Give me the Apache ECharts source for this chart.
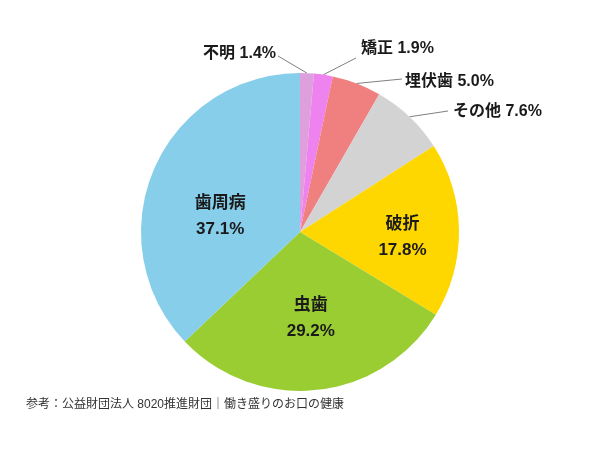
<!DOCTYPE html>
<html>
<head>
<meta charset="utf-8">
<script src="https://cdn.jsdelivr.net/npm/echarts@6/dist/echarts.min.js"></script>
<style>
  html, body { margin: 0; padding: 0; background: #fff; }
  #chart { width: 600px; height: 450px; }
</style>
</head>
<body>
<div id="chart"></div>
<script>
// data
var categories = ['不明', '矯正', '埋伏歯', 'その他', '破折', '虫歯', '歯周病'];
var shares = [1.4, 1.9, 5.0, 7.6, 17.8, 29.2, 37.1];
var colors = ['#dda0dd', '#ee82ee', '#f08080', '#d3d3d3', '#ffd700', '#9acd32', '#87ceeb'];
var insideNames = ['破折', '虫歯', '歯周病'];
var sourceText = '参考：公益財団法人 8020推進財団｜働き盛りのお口の健康';

// label placement (outside labels: anchor point + alignment; inside labels: offsets)
var outerLabelPos = {
	'不明': { x: 276, y: 54, align: 'right', lineEnd: [278, 56] },
	'矯正': { x: 361, y: 49, align: 'left', lineEnd: [356, 58] },
	'埋伏歯': { x: 405, y: 82, align: 'left', lineEnd: [402, 79] },
	'その他': { x: 453, y: 112, align: 'left', lineEnd: [448, 111] }
};
var innerOffset = {
	'破折': [20, 6],
	'虫歯': [2, 4],
	'歯周病': [-4, 17]
};
var labelFont = '"Liberation Sans", "Noto Sans CJK JP", sans-serif';

var chart = echarts.init(document.getElementById('chart'));

var pieData = categories.map(function (name, i) {
	var inside = insideNames.indexOf(name) >= 0;
	return {
		name: name,
		value: shares[i],
		itemStyle: { color: colors[i] },
		label: inside ? {
			position: 'inside',
			formatter: function (p) { return p.name + '\n' + p.value.toFixed(1) + '%'; },
			fontSize: 17,
			lineHeight: 26
		} : {
			position: 'outside',
			formatter: function (p) { return p.name + ' ' + p.value.toFixed(1) + '%'; },
			fontSize: 16
		},
		labelLine: { show: !inside }
	};
});

chart.setOption({
	backgroundColor: '#ffffff',
	animation: false,
	graphic: [{
		type: 'text',
		left: 26,
		top: 399,
		style: {
			text: sourceText,
			fontSize: 12,
			fill: '#333333',
			fontFamily: labelFont
		}
	}],
	series: [{
		type: 'pie',
		center: [300, 232],
		radius: [0, 159],
		startAngle: 90,
		clockwise: true,
		avoidLabelOverlap: false,
		itemStyle: { borderWidth: 0 },
		label: {
			color: '#1a1a1a',
			fontWeight: 'bold',
			fontFamily: labelFont
		},
		labelLine: {
			length: 10,
			length2: 10,
			lineStyle: { color: '#808080', width: 1 }
		},
		labelLayout: function (params) {
			var name = categories[params.dataIndex];
			if (innerOffset[name]) {
				return { dx: innerOffset[name][0], dy: innerOffset[name][1] };
			}
			var pos = outerLabelPos[name];
			var pts = params.labelLinePoints;
			return {
				x: pos.x,
				y: pos.y,
				align: pos.align,
				verticalAlign: 'middle',
				labelLinePoints: [pts[0], pos.lineEnd, pos.lineEnd]
			};
		},
		data: pieData
	}]
});
</script>
</body>
</html>
